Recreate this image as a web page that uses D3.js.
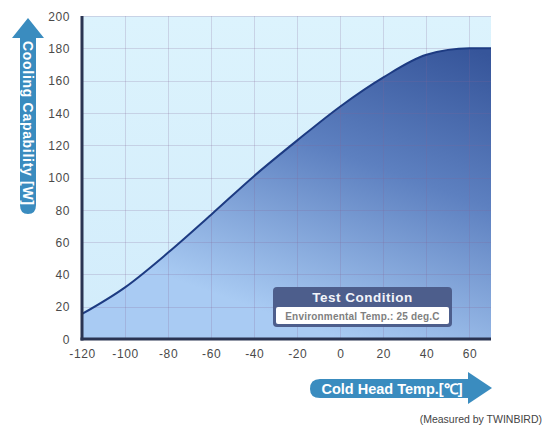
<!DOCTYPE html>
<html><head><meta charset="utf-8">
<script src="https://cdn.jsdelivr.net/npm/d3@7"></script>
<style>body{margin:0;background:#fff}svg{display:block}</style>
</head><body><svg id="c" width="544" height="425"></svg>
<script>
const temps = [-120, -100, -80, -60, -40, -20, 0, 20, 40, 60, 70];
const capacity = [15.5, 32, 53.5, 77, 101, 123, 144, 162, 176, 180, 180];
const xTicks = [-120, -100, -80, -60, -40, -20, 0, 20, 40, 60];
const yTicks = [0, 20, 40, 60, 80, 100, 120, 140, 160, 180, 200];
const yTitle = "Cooling Capability [W]";
const xTitle = "Cold Head Temp.[℃]";
const boxTitle = "Test Condition";
const boxText = "Environmental Temp.: 25 deg.C";
const credit = "(Measured by TWINBIRD)";

const svg = d3.select("#c");
const x = d3.scaleLinear().domain([-120, 70]).range([82, 491]);
const y = d3.scaleLinear().domain([0, 200]).range([339, 16]);
const data = temps.map((t, i) => ({t, v: capacity[i]}));

const defs = svg.append("defs");
const bg = defs.append("linearGradient").attr("id","bg").attr("gradientUnits","userSpaceOnUse")
  .attr("x1",0).attr("y1",y(200)).attr("x2",0).attr("y2",y(0));
bg.append("stop").attr("offset",0).attr("stop-color","#dcf3fd");
bg.append("stop").attr("offset",1).attr("stop-color","#d2ecfb");
const fg = defs.append("linearGradient").attr("id","fg").attr("gradientUnits","userSpaceOnUse")
  .attr("x1",x(50)).attr("y1",y(185)).attr("x2",x(0)).attr("y2",y(0));
fg.append("stop").attr("offset",0).attr("stop-color","#36559a");
fg.append("stop").attr("offset",0.45).attr("stop-color","#5d80c0");
fg.append("stop").attr("offset",1).attr("stop-color","#a9cbf3");

// plot background
svg.append("rect").attr("x", x(-120)).attr("y", y(200))
  .attr("width", x(70) - x(-120)).attr("height", y(0) - y(200)).attr("fill", "url(#bg)");

// area
const area = d3.area().x(d => x(d.t)).y0(y(0)).y1(d => y(d.v)).curve(d3.curveMonotoneX);
svg.append("path").datum(data).attr("d", area).attr("fill", "url(#fg)");

// grid
const grid = svg.append("g").attr("stroke", "rgb(130,100,150)").attr("stroke-opacity", 0.22).attr("stroke-width", 1);
grid.selectAll(".gy").data(yTicks.filter(v => v > 0)).join("line")
  .attr("x1", x(-120)).attr("x2", x(70)).attr("y1", d => Math.round(y(d)) + 0.5).attr("y2", d => Math.round(y(d)) + 0.5);
grid.selectAll(".gx").data(xTicks.filter(v => v > -120)).join("line")
  .attr("y1", y(200)).attr("y2", y(0)).attr("x1", d => Math.round(x(d)) + 0.5).attr("x2", d => Math.round(x(d)) + 0.5);

// curve
const line = d3.line().x(d => x(d.t)).y(d => y(d.v)).curve(d3.curveMonotoneX);
svg.append("path").datum(data).attr("d", line).attr("fill", "none")
  .attr("stroke", "#1d3b82").attr("stroke-width", 2);

// axes lines
svg.append("line").attr("x1", x(-120)).attr("x2", x(-120)).attr("y1", y(200)).attr("y2", y(0) + 1.5)
  .attr("stroke", "#2a3452").attr("stroke-width", 3);
svg.append("line").attr("x1", x(-120) - 1.5).attr("x2", x(70)).attr("y1", y(0)).attr("y2", y(0))
  .attr("stroke", "#2a3452").attr("stroke-width", 3);

// axes labels via d3 axes
const yAxis = svg.append("g").attr("transform", "translate(70,0)")
  .call(d3.axisLeft(y).tickValues(yTicks).tickSize(0).tickPadding(0).tickFormat(d => String(d)));
yAxis.select(".domain").remove();
yAxis.selectAll("text").attr("font-family", "Liberation Sans, Arial, sans-serif")
  .attr("font-size", 12).attr("fill", "#4a4a4a").attr("letter-spacing", 0.6).attr("dy", "0.35em");

const xAxis = svg.append("g").attr("transform", "translate(0,349)")
  .call(d3.axisBottom(x).tickValues(xTicks).tickSize(0).tickPadding(0).tickFormat(d => String(d)));
xAxis.select(".domain").remove();
xAxis.selectAll("text").attr("font-family", "Liberation Sans, Arial, sans-serif")
  .attr("font-size", 12).attr("fill", "#4a4a4a").attr("letter-spacing", 0.6);

// Y arrow
const arrowCol = "#3a8cbf";
svg.append("path").attr("fill", arrowCol)
  .attr("d", "M28,18 L44,38 L36,38 L36,205 Q36,214 28,214 Q20,214 20,205 L20,38 L12,38 Z");
svg.append("text").attr("transform", "translate(28,41) rotate(90)")
  .attr("font-family", "Liberation Sans, Arial, sans-serif").attr("font-weight", "bold")
  .attr("font-size", 14).attr("fill", "#fff").attr("dy", "0.35em").attr("letter-spacing", 0.7)
  .text(yTitle);

// X arrow
svg.append("path").attr("fill", arrowCol)
  .attr("d", "M492,388 L468,372 L468,379 L320,379 Q310,379 310,389 Q310,398 320,398 L468,398 L468,404 Z");
svg.append("text").attr("x", 392).attr("y", 389).attr("text-anchor", "middle")
  .attr("font-family", "Liberation Sans, Arial, sans-serif").attr("font-weight", "bold")
  .attr("font-size", 14.5).attr("fill", "#fff").attr("dy", "0.35em")
  .text(xTitle);

// Test condition box
const bx = 273, by = 287, bw = 179, bh = 40;
svg.append("rect").attr("x", bx).attr("y", by).attr("width", bw).attr("height", bh)
  .attr("rx", 4).attr("fill", "#4d5e8c");
svg.append("rect").attr("x", bx + 3).attr("y", by + 20).attr("width", bw - 6).attr("height", bh - 23)
  .attr("rx", 2).attr("fill", "#ffffff");
svg.append("text").attr("x", bx + bw / 2).attr("y", by + 10.5).attr("text-anchor", "middle")
  .attr("font-family", "Liberation Sans, Arial, sans-serif").attr("font-weight", "bold")
  .attr("font-size", 13.5).attr("fill", "#f2f4fa").attr("dy", "0.35em").attr("letter-spacing", 0.5)
  .text(boxTitle);
svg.append("text").attr("x", bx + bw / 2).attr("y", by + 29).attr("text-anchor", "middle")
  .attr("font-family", "Liberation Sans, Arial, sans-serif").attr("font-weight", "bold")
  .attr("font-size", 10).attr("fill", "#808080").attr("dy", "0.35em").attr("letter-spacing", 0.2)
  .text(boxText);

// credit
svg.append("text").attr("x", 542).attr("y", 419).attr("text-anchor", "end")
  .attr("font-family", "Liberation Sans, Arial, sans-serif")
  .attr("font-size", 10.5).attr("fill", "#444").attr("dy", "0.35em")
  .text(credit);
</script></body></html>
